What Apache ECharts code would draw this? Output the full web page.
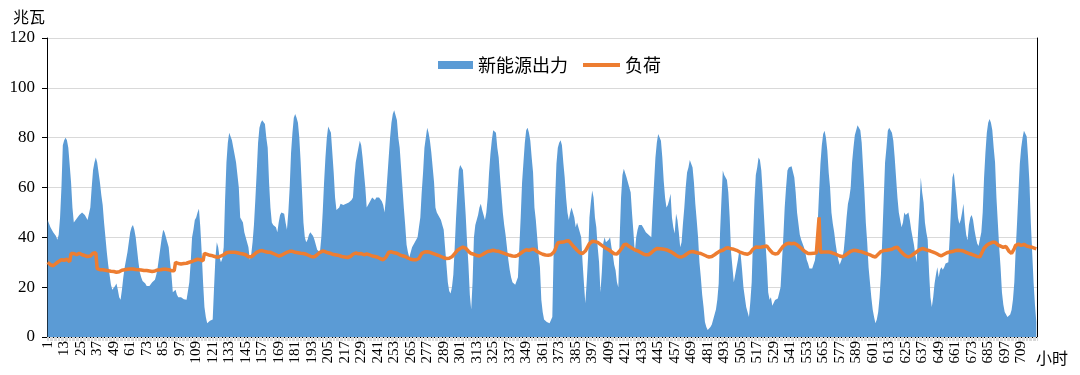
<!DOCTYPE html>
<html><head><meta charset="utf-8">
<script src="https://cdn.jsdelivr.net/npm/echarts@6/dist/echarts.min.js"></script>
<style>html,body{margin:0;padding:0;background:#fff}#c{width:1080px;height:375px}</style>
</head><body><div id="c"></div>
<script>
// 新能源出力 (MW), hours 1..720, one row per day
const newEnergy = [
47,45.5,44,43,42,41.5,40.5,39,41,48,60,77,79,80,79,76,69,62,52,46,46.5,47.5,48,49,
49.5,50,50.5,49,48,47,47.5,52,60,67,70,72,70,66,62,57,53,46,40,34,29,25,21,19,
19.5,20.5,21.5,19,16,15,19,24,28,31,34,38,42,44,45,43,40,35,30,26,24,22.5,22,21.5,
20.5,20,20.5,21,22,22,23,25,28,32,36,40,43,42,40,38,36,30,25,18,18,19,17,16,
15.5,16,15.5,15.2,15,15,15,22,30,40,43,47,48,50,51.5,44,34,22,12,8,5.5,6,6.5,6.5,
7,20,32,38,36,32,30,31.5,36,55,70,78,82,81.5,79,76,73,70,65,60,48,47,46,42,
40,38,36,31,33,38,45,55,66,78,84,86,87,86.5,85.5,80,76,62,52,46,45,45,44,42,
46,49,50,50,49.5,46,43,50,60,74,82,88,89.5,88,86,80,70,58,46,40,38,39,41,42,
41.5,40.5,39,37,35,34.5,34,40,50,62,72,80,84.5,84,82,74,66,56,51,50.5,52,53.5,53,53,
53.5,53.5,54,54,54.5,55,56,64,70,73,76,78.8,77,72,66,60,52,53,53.5,55,56,55.5,55,56,
56.5,56,56,54.5,53,50,56,64,72,80,86,89.5,91,90.5,87,80,76,68,60,52,45,37,34,32,
34,36,37,37.5,39,40,44,48,58,66,76,80,84,82,78.8,74,68,62,52,50,49,48,47,45,
43,36,29,22,18.5,17.5,20,25,36,48,58,67,69,69.5,67,58,49,38,29,17,11,22,40,45,
47,49,52,53.5,51,49,47,50,56,66,73.5,79,83,83,82,76,72,64,57,50,45,41,36,31,
27,24,22,21.5,21,21.5,24,36,48,62,70,78,83,84,82,78.8,72,66,52,47,40,33,28,15,
10,7,6.5,6,6,5.5,6,8,35,55,69.5,76,78,79,77,70,64,56,50,47,50,52,50,48,
44,46,45.5,42,40,30,21.5,13.5,22,32,48,54,58.8,56,48,44,36,30,18,26,37.5,40,38,37.5,
39,40,36,33,29,26.8,22,20,40,56,65,67.5,67,64,62,61.5,58,49.5,42,34,40,43,45,45.5,
45,44,43,42,41.5,41,40.5,40,52,62,72,78,81.5,81,78.8,72,62.8,56,52,53,55,57.5,48,44,
41.5,49.5,47,42,36,38,45.5,52,60,66,68,71,71.5,68,62,53.5,47,40,30,24,17,12,6,4,
2.8,3.5,4,5,7,9,11,15,21.5,42,55,66.8,65,64,63,58,48,34,28,22,21.5,28,31,34.8,
33,27,20,16,12,10,8,14,22,40,55,65,68,72,71,66.8,58,48,38,29.5,18,15,16,12.5,
13,14.8,15,15.5,16,20,30,40,52,60,66.8,68,68.8,68.5,68,64,58,50,45.5,41,39,37.5,36,34,
31,29.5,27.5,26.8,27.5,28.1,30.8,36,45.5,58,69.5,77,81.5,82.8,80,74.8,66,60,50,45.5,42,37.5,34,31,
29,28.8,32,35,41,48,53.5,56,60,70,76,81,83,85,85.5,83,78,68,58,46,38,28,22,16,
11,8,5.5,7,10,16,25,40,55,70,76,82.8,84,84.8,82,78.8,72,64,56,50,47,44,46,50,
49,49.5,50,47,43,40,37,33,30,42,52,64,58,54,46,42,39,26,16,12,16,21.5,25,28,
24,27,28,27,28,29.5,29.5,30,40,52,64,66,66.8,55,48,45.5,47,50,53.5,46,41,38.8,45,48,
49,47,43,40,37.5,36.5,36,42,50,64,74,82,86,87.5,86,83,76,70,56,46,36,28,18,13,
10,9,8,7.5,9,10.8,15,22,35,46,58,69.5,76,80,82.8,82,80.5,72,62,46,34,22,13,6
];
// 负荷 (MW), hours 1..720
const load = [
30,29.5,29,28.8,28.6,28.8,29.5,30,30.3,30.5,31,31,30.8,31,31.2,30.8,30.2,33.5,33.8,33.5,33.2,33,33.3,33.6,
33.2,33,33.2,32.7,32.5,32.3,32.3,32.5,33,33.6,34,33.8,27.4,27.1,27,27,27,26.9,26.8,26.7,26.6,26.5,26.4,26.3,
26.3,26.2,26,26,26.2,26.5,26.8,27,27,27.1,27.2,27.2,27.3,27.3,27.3,27.2,27.1,27,27,27,26.9,26.8,26.7,26.7,
26.7,26.6,26.5,26.4,26.3,26.3,26.5,26.7,26.9,27,27,27.1,27.2,27.2,27.2,27.1,27,26.8,26.6,26.5,26.6,30,30.2,29.5,
29.2,29.3,29.4,29.5,29.6,29.6,29.8,30,30.2,30.3,30.5,30.8,31,31.2,31.2,31,30.7,30.6,33.6,33.4,33.2,33,32.8,32.7,
32.6,32.4,32.2,32,32,32.2,32.5,32.7,33,33.4,33.8,34,34,34,34,34,34,34,33.8,33.6,33.5,33.4,33.3,33.1,
33,32.6,32.2,32,32.2,32.5,33,33.5,34,34.3,34.5,34.6,34.7,34.5,34.3,34.2,34,34.1,34,33.8,33.5,33.2,33,32.7,
32.5,32.6,32.8,33.1,33.4,33.7,34,34.2,34.4,34.5,34.4,34.2,34,34,33.8,33.7,33.6,33.5,33.5,33.4,33.2,33,32.7,32.4,
32.2,32,32.2,32.6,33,33.5,34,34.3,34.5,34.4,34.2,34,33.8,33.7,33.5,33.3,33.1,33,32.9,32.8,32.7,32.5,32.3,32.2,
32.1,32,31.9,32,32.3,32.7,33.2,33.6,33.7,33.5,33.4,33.6,33.5,33.2,33,33.2,33.4,33.3,33,32.8,32.5,32.4,32.3,32.2,
32,31.7,31.4,31.2,31,31.2,32,33,34,34.4,34.2,34,33.8,33.7,33.6,33.3,33,32.8,32.6,32.5,32.3,32,31.7,31.5,
31.2,31,31,31.1,31,30.9,31.5,32.5,33.5,34,34.1,34,34.2,34.1,34,33.8,33.6,33.4,33.2,33,32.8,32.6,32.3,32,
31.8,31.6,31.5,31.5,31.6,31.8,32.2,32.8,33.5,34.2,34.8,35.2,35.5,35.8,36.1,36,35.6,35,34.4,33.8,33.5,33.4,33.2,33,
32.7,32.5,32.5,32.7,33,33.3,33.7,34,34.3,34.5,34.5,34.6,34.8,34.7,34.5,34.5,34.4,34.2,34,33.8,33.6,33.4,33.2,33,
32.8,32.6,32.5,32.4,32.4,32.5,32.8,33.2,33.6,34,34.4,34.8,35,35,34.8,35,35.2,35.5,35.2,34.8,34.3,34,33.7,33.4,
33.2,33,32.9,32.8,32.8,32.8,33,33.5,34,35,36.5,37.8,38,38,38,38.1,38.2,38.5,38.8,38.6,38,37.3,36.8,36,
35.5,34.8,34.2,33.8,33.5,33.5,33.8,34.5,35.5,36.5,37.5,38.2,38.4,38.4,38.3,38.2,38,37.6,37.2,36.8,36.4,36,35.6,35.2,
35,34.6,34.2,33.8,33.4,33.2,33.3,33.8,34.5,35.2,36,37,37.5,37.2,36.8,36.3,36,35.6,35.3,35,34.8,34.6,34.3,34,
33.7,33.4,33.2,33,32.9,33,33.3,33.8,34.3,34.8,35.2,35.5,35.5,35.4,35.4,35.3,35.2,35.1,35,34.8,34.6,34.3,34,33.6,
33.2,32.8,32.5,32.2,32.1,32.1,32.3,32.6,33,33.4,33.8,34.1,34.3,34.3,34.2,34,33.8,33.7,33.6,33.5,33.3,33,32.8,32.5,
32.2,32.1,32.1,32.3,32.6,33,33.4,33.8,34.2,34.5,34.5,34.8,35.2,35.6,35.9,35.8,35.5,35.4,35.3,35.2,35,34.8,34.5,34.2,
34,33.8,33.6,33.4,33.2,33.2,33.3,33.8,34.5,35.3,35.8,36.1,36.1,36,36,36.1,35.8,36.3,37,36.5,35.8,35,34.3,33.8,
33.5,33.3,33.2,33.5,34.2,35,35.8,36.5,37,37.3,37.5,37.6,37.5,37.4,37.5,37.6,37.4,37,36.6,36.1,35.6,35.1,34.6,34.2,
33.8,33.5,33.4,33.5,33.5,33.6,33.6,33.7,33.8,48,34,34,34.1,34.1,34.1,34.2,34.1,34,33.9,33.7,33.5,33.3,33,32.8,
32.5,32.3,32.2,32.5,32.8,33.2,33.6,34,34.4,34.7,34.8,34.8,34.7,34.6,34.4,34.3,34.2,34,33.8,33.6,33.4,33.2,33,32.7,
32.4,32.1,32.1,32.6,33.2,33.8,34.3,34.6,34.7,34.7,34.8,34.9,35,35,35.2,35.5,35.8,36.1,36,35.2,34.6,34,33.5,33,
32.6,32.3,32.1,32.3,32.6,33,33.4,33.8,34.2,34.6,35,35.3,35.5,35.4,35.2,35,34.8,34.6,34.5,34.3,34.1,33.9,33.6,33.3,
33,32.8,32.6,32.8,33.2,33.5,33.8,34,34.1,34.2,34.3,34.5,34.7,34.8,34.8,34.8,34.7,34.6,34.5,34.3,34,33.8,33.5,33.4,
33.2,33,32.8,32.6,32.3,32.1,32.2,33,34.5,35.6,36.3,36.8,37.2,37.5,37.6,38,38.2,38,37.5,37,36.8,36.5,36.2,36,
36,36.3,35.5,34.5,33.8,33.6,34.2,35.5,36.8,37.5,37.3,37,36.8,37,37.2,36.9,36.5,36.3,36.2,36.1,36,35.8,35.6,35.4
];
const hours = [];
for (let i = 1; i <= newEnergy.length; i++) hours.push(String(i));
const seriesNames = ['新能源出力', '负荷'];
const yUnit = '兆瓦';
const xUnit = '小时';

const legendText = {fontFamily: 'Noto Sans CJK SC', fontSize: 18, color: '#000'};
const chart = echarts.init(document.getElementById('c'), null, {renderer: 'canvas'});
chart.setOption({
  animation: false,
  backgroundColor: '#fff',
  grid: {left: 47, right: 43, top: 38, bottom: 38, containLabel: false},
  legend: [{
    top: 51, left: 433, itemWidth: 35, itemHeight: 8, itemGap: 14,
    textStyle: legendText,
    data: [{name: seriesNames[0], icon: 'rect'}]
  }, {
    top: 51, left: 578, itemWidth: 37, itemHeight: 4, itemGap: 14,
    textStyle: legendText,
    data: [{name: seriesNames[1], icon: 'rect'}]
  }],
  xAxis: [{
    type: 'category', data: hours, boundaryGap: true,
    axisLine: {lineStyle: {color: '#d9d9d9', width: 1}},
    axisTick: {show: true, interval: 0, length: 4, lineStyle: {color: '#d9d9d9'}},
    axisLabel: {interval: 11, rotate: 90, fontFamily: 'Liberation Serif', fontSize: 15, color: '#000', margin: 4}
  }, {
    type: 'value', position: 'top', min: 0, max: 1,
    axisLine: {show: true, lineStyle: {color: '#000'}},
    axisTick: {show: false}, axisLabel: {show: false}, splitLine: {show: false}
  }],
  yAxis: [{
    type: 'value', min: 0, max: 120, interval: 20,
    axisLine: {show: true, lineStyle: {color: '#000'}},
    axisTick: {show: true, length: 5, lineStyle: {color: '#000'}},
    axisLabel: {fontFamily: 'Liberation Serif', fontSize: 17, color: '#000', margin: 12},
    splitLine: {lineStyle: {color: '#d9d9d9'}}
  }, {
    type: 'value', position: 'right', min: 0, max: 120,
    axisLine: {show: true, lineStyle: {color: '#000'}},
    axisTick: {show: false}, axisLabel: {show: false}, splitLine: {show: false}
  }],
  graphic: [
    {type: 'text', left: 13, top: 9, style: {text: yUnit, font: '16px "Noto Sans CJK SC"', fill: '#000'}},
    {type: 'text', left: 1036, top: 350, style: {text: xUnit, font: '16px "Noto Sans CJK SC"', fill: '#000'}}
  ],
  series: [{
    name: seriesNames[0], type: 'line', data: newEnergy, symbol: 'none', showSymbol: false,
    lineStyle: {width: 0, color: '#5b9bd5'}, itemStyle: {color: '#5b9bd5'},
    areaStyle: {color: '#5b9bd5', opacity: 1}, z: 2
  }, {
    name: seriesNames[1], type: 'line', data: load, symbol: 'none', showSymbol: false,
    lineStyle: {width: 3.5, color: '#ed7d31'}, itemStyle: {color: '#ed7d31'}, z: 3
  }]
});
</script>
</body></html>
